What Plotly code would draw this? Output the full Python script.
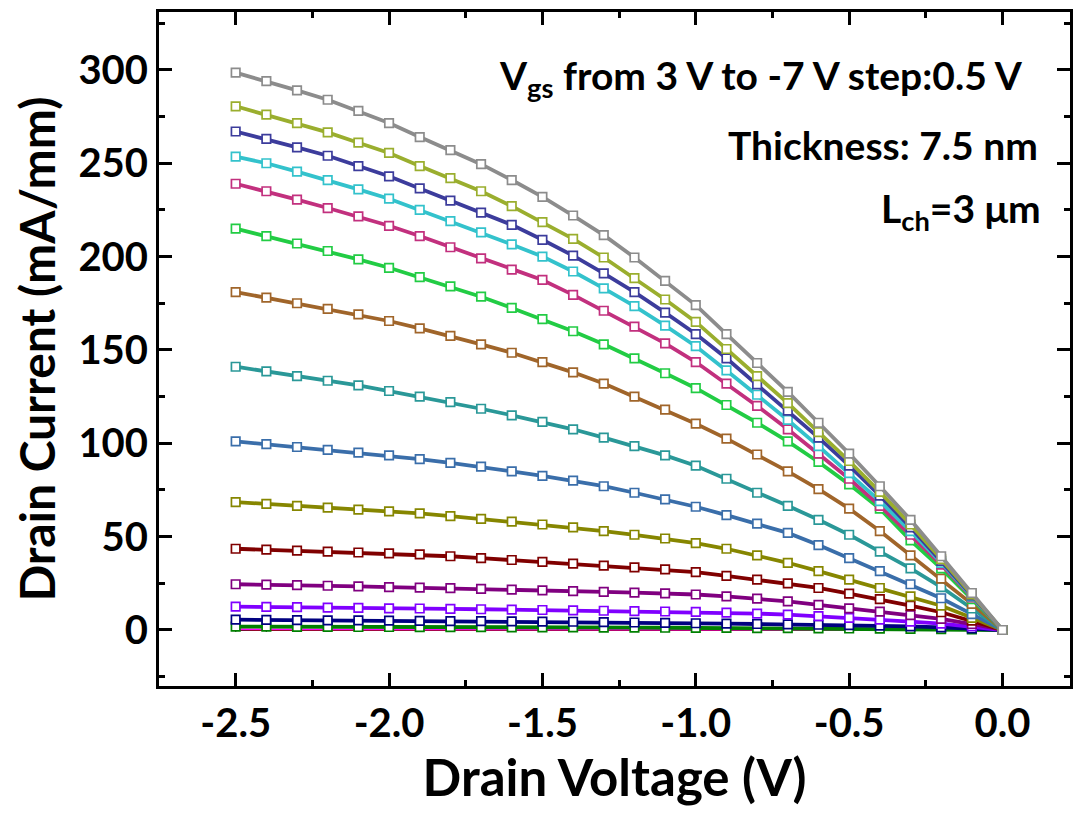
import plotly.graph_objects as go

# Drain voltage sweep (V)
vds = [-2.5, -2.4, -2.3, -2.2, -2.1, -2.0, -1.9, -1.8, -1.7, -1.6, -1.5, -1.4, -1.3,
       -1.2, -1.1, -1.0, -0.9, -0.8, -0.7, -0.6, -0.5, -0.4, -0.3, -0.2, -0.1, 0.0]

# Drain current (mA/mm) for each gate voltage
id_vgs_p3_0 = [0.1, 0.1, 0.1, 0.1, 0.1, 0.1, 0.1, 0.1, 0.1, 0.1, 0.1, 0.1, 0.1,
               0.1, 0.1, 0.1, 0.1, 0.1, 0.1, 0.1, 0.1, 0.1, 0.1, 0.0, 0.0, 0.0]
id_vgs_p2_5 = [0.1, 0.1, 0.1, 0.1, 0.1, 0.1, 0.1, 0.1, 0.1, 0.1, 0.1, 0.1, 0.1,
               0.1, 0.1, 0.1, 0.1, 0.1, 0.1, 0.1, 0.1, 0.1, 0.1, 0.0, 0.0, 0.0]
id_vgs_p2_0 = [0.1, 0.1, 0.1, 0.1, 0.1, 0.1, 0.1, 0.1, 0.1, 0.1, 0.1, 0.1, 0.1,
               0.1, 0.1, 0.1, 0.1, 0.1, 0.1, 0.1, 0.1, 0.1, 0.1, 0.0, 0.0, 0.0]
id_vgs_p1_5 = [0.1, 0.1, 0.1, 0.1, 0.1, 0.1, 0.1, 0.1, 0.1, 0.1, 0.1, 0.1, 0.1,
               0.1, 0.1, 0.1, 0.1, 0.1, 0.1, 0.1, 0.1, 0.1, 0.1, 0.0, 0.0, 0.0]
id_vgs_p1_0 = [0.2, 0.2, 0.2, 0.2, 0.2, 0.2, 0.2, 0.2, 0.2, 0.2, 0.2, 0.2, 0.2,
               0.2, 0.2, 0.2, 0.2, 0.2, 0.1, 0.1, 0.1, 0.1, 0.1, 0.1, 0.0, 0.0]
id_vgs_p0_5 = [0.4, 0.4, 0.4, 0.4, 0.4, 0.4, 0.4, 0.4, 0.4, 0.4, 0.4, 0.4, 0.3,
               0.3, 0.3, 0.3, 0.3, 0.3, 0.3, 0.3, 0.2, 0.2, 0.2, 0.1, 0.1, 0.0]
id_vgs_0_0 = [1.8, 1.8, 1.7, 1.7, 1.6, 1.6, 1.5, 1.5, 1.5, 1.4, 1.4, 1.4, 1.3,
              1.3, 1.2, 1.1, 1.1, 1.0, 1.0, 0.9, 0.8, 0.7, 0.6, 0.5, 0.3, 0.0]
id_vgs_m0_5 = [5.5, 5.4, 5.3, 5.2, 5.1, 5.0, 4.9, 4.8, 4.7, 4.6, 4.5, 4.4, 4.2,
               4.0, 3.8, 3.6, 3.4, 3.2, 3.0, 2.8, 2.6, 2.3, 1.9, 1.4, 0.8, 0.0]
id_vgs_m1_0 = [12.5, 12.4, 12.2, 12.0, 11.8, 11.6, 11.5, 11.3, 11.1, 10.9, 10.7, 10.5, 10.3,
               10.1, 9.9, 9.7, 9.3, 8.8, 8.2, 7.4, 6.5, 5.5, 4.5, 3.4, 1.9, 0.0]
id_vgs_m1_5 = [24.5, 24.3, 24.0, 23.7, 23.4, 23.0, 22.7, 22.4, 22.0, 21.6, 21.2, 20.8, 20.4,
               20.0, 19.6, 19.0, 18.0, 16.8, 15.3, 13.5, 11.6, 9.8, 8.0, 6.0, 3.2, 0.0]
id_vgs_m2_0 = [43.5, 43.0, 42.5, 42.0, 41.5, 41.0, 40.5, 39.5, 38.5, 37.5, 36.5, 35.5, 34.5,
               33.5, 32.5, 31.0, 29.0, 27.0, 25.0, 22.5, 19.5, 16.5, 13.0, 9.5, 5.0, 0.0]
id_vgs_m2_5 = [68.5, 67.5, 66.5, 65.5, 64.5, 63.5, 62.5, 61.0, 59.5, 58.0, 56.5, 55.0, 53.0,
               51.0, 49.0, 46.5, 43.5, 40.0, 36.0, 31.5, 27.0, 22.5, 18.0, 13.0, 6.5, 0.0]
id_vgs_m3_0 = [101.0, 99.5, 98.0, 96.5, 95.0, 93.5, 91.5, 89.5, 87.5, 85.0, 82.5, 80.0, 77.0,
               73.5, 70.0, 66.0, 61.5, 57.0, 52.0, 45.5, 38.5, 31.5, 24.5, 17.0, 8.5, 0.0]
id_vgs_m3_5 = [141.0, 138.5, 136.0, 133.5, 131.0, 128.0, 125.0, 122.0, 118.5, 115.0, 111.5, 107.5, 103.0,
               98.5, 93.5, 88.0, 81.0, 73.5, 66.5, 59.0, 51.0, 42.0, 33.0, 23.0, 11.5, 0.0]
id_vgs_m4_0 = [181.0, 178.0, 175.0, 172.0, 169.0, 165.5, 161.5, 157.5, 153.0, 148.5, 143.5, 138.0, 132.0,
               125.0, 118.0, 110.5, 102.5, 94.0, 85.0, 75.5, 65.0, 53.0, 40.0, 27.5, 14.0, 0.0]
id_vgs_m4_5 = [215.0, 211.0, 207.0, 203.0, 198.5, 194.0, 189.0, 184.0, 178.5, 172.5, 166.5, 160.0, 153.0,
               145.5, 137.5, 129.5, 120.5, 111.0, 101.0, 90.0, 78.0, 65.0, 48.0, 33.0, 16.5, 0.0]
id_vgs_m5_0 = [239.0, 235.0, 230.5, 226.0, 221.5, 216.5, 211.0, 205.0, 199.0, 193.0, 187.5, 179.5, 171.0,
               162.5, 153.5, 143.5, 132.0, 120.0, 107.5, 94.5, 81.0, 66.5, 51.0, 35.0, 17.5, 0.0]
id_vgs_m5_5 = [253.5, 250.0, 245.5, 241.0, 236.0, 231.0, 225.0, 219.0, 213.0, 206.5, 200.0, 192.0, 183.0,
               173.5, 163.0, 152.0, 139.0, 126.0, 112.5, 98.5, 84.0, 69.0, 53.0, 36.0, 18.0, 0.0]
id_vgs_m6_0 = [267.0, 263.0, 258.5, 254.0, 248.5, 243.0, 236.5, 230.0, 223.5, 217.0, 209.0, 200.5, 191.0,
               181.0, 170.0, 158.5, 145.5, 131.5, 117.5, 103.0, 88.0, 72.0, 55.0, 37.0, 18.5, 0.0]
id_vgs_m6_5 = [280.5, 276.0, 271.5, 266.5, 261.0, 255.5, 248.5, 242.0, 235.0, 227.0, 218.5, 209.5, 199.5,
               188.5, 177.0, 165.0, 150.5, 136.0, 121.5, 106.0, 90.5, 74.0, 56.5, 38.0, 19.0, 0.0]
id_vgs_m7_0 = [298.5, 294.0, 289.0, 284.0, 278.0, 271.5, 264.0, 257.0, 249.5, 241.0, 232.0, 222.0, 211.5,
               199.5, 187.0, 174.0, 158.5, 143.0, 127.5, 111.0, 94.5, 77.0, 59.0, 39.5, 19.8, 0.0]

vgs_values = [3.0, 2.5, 2.0, 1.5, 1.0, 0.5, 0.0, -0.5, -1.0, -1.5, -2.0, -2.5, -3.0,
              -3.5, -4.0, -4.5, -5.0, -5.5, -6.0, -6.5, -7.0]
currents = [id_vgs_p3_0, id_vgs_p2_5, id_vgs_p2_0, id_vgs_p1_5, id_vgs_p1_0, id_vgs_p0_5,
            id_vgs_0_0, id_vgs_m0_5, id_vgs_m1_0, id_vgs_m1_5, id_vgs_m2_0, id_vgs_m2_5,
            id_vgs_m3_0, id_vgs_m3_5, id_vgs_m4_0, id_vgs_m4_5, id_vgs_m5_0, id_vgs_m5_5,
            id_vgs_m6_0, id_vgs_m6_5, id_vgs_m7_0]
colors = ["#000000", "#ff0000", "#0000ff", "#000000", "#ff0000", "#ff00ff",
          "#008000", "#000080", "#8000ff", "#800080", "#800000", "#868600",
          "#3a6eaa", "#2a9898", "#a0652a", "#22cc44", "#c2307e", "#33c2cc",
          "#3c3c9c", "#9aae2e", "#8c8c8c"]

fig = go.Figure()
for vg, cur, col in zip(vgs_values, currents, colors):
    small = vg > 0.0
    fig.add_trace(go.Scatter(
        x=vds, y=cur, mode="lines+markers", name=f"Vgs={vg} V",
        line=dict(color=col, width=1.5 if small else 3.8),
        marker=dict(symbol="square" if not small else "diamond",
                    size=3 if small else 8.5,
                    color="white" if not small else col,
                    line=dict(color=col, width=1.7 if not small else 0)),
        showlegend=False,
    ))

FONT = "Lato"
axis_common = dict(
    showline=True, linecolor="black", linewidth=3, mirror="ticks",
    ticks="inside", ticklen=13, tickwidth=3, tickcolor="black",
    showgrid=False, zeroline=False, automargin=False,
    tickfont=dict(family=FONT, size=40, color="black", weight="bold"),
)
fig.update_xaxes(
    range=[-2.75, 0.22], tickmode="array",
    tickvals=[-2.5, -2.0, -1.5, -1.0, -0.5, 0.0],
    ticktext=["-2.5", "-2.0", "-1.5", "-1.0", "-0.5", "0.0"],
    minor=dict(ticks="inside", ticklen=6, tickwidth=3, tickcolor="black", dtick=0.25, tick0=0),
    title=dict(text="Drain Voltage (V)", font=dict(family=FONT, size=51, color="black", weight="bold"),
               standoff=8),
    **axis_common)
fig.update_yaxes(
    range=[-30, 331], tickmode="array",
    tickvals=[0, 50, 100, 150, 200, 250, 300],
    minor=dict(ticks="inside", ticklen=6, tickwidth=3, tickcolor="black", dtick=25, tick0=0),
    title=dict(text="Drain Current (mA/mm)", font=dict(family=FONT, size=48, color="black", weight="bold"),
               standoff=8),
    **axis_common)

W, H = 1073, 813
ml, mr, mt, mb = 159, 3, 12, 127
pw, ph = W - ml - mr, H - mt - mb

def px_to_dom(px, py):
    return (px - ml) / pw, 1 - (py - mt) / ph

ann_font = dict(family=FONT, size=39, color="black", weight="bold")
for txt, (px, py) in [("V<sub>gs</sub> from 3 V to -7 V step:0.5 V", (1025, 78)),
                      ("Thickness: 7.5 nm", (1040, 145)),
                      ("L<sub>ch</sub>=3 μm", (1043, 211))]:
    dx, dy = px_to_dom(px, py)
    fig.add_annotation(x=dx, y=dy, xref="x domain", yref="y domain", text=txt,
                       showarrow=False, xanchor="right", yanchor="middle", font=ann_font)

fig.update_layout(
    width=W, height=H, margin=dict(l=ml, r=mr, t=mt, b=mb, autoexpand=False),
    plot_bgcolor="white", paper_bgcolor="white", showlegend=False,
)
fig.write_html("out.html", config={"displayModeBar": False},
               post_script="document.body.style.margin='0';document.body.style.overflow='hidden';")
